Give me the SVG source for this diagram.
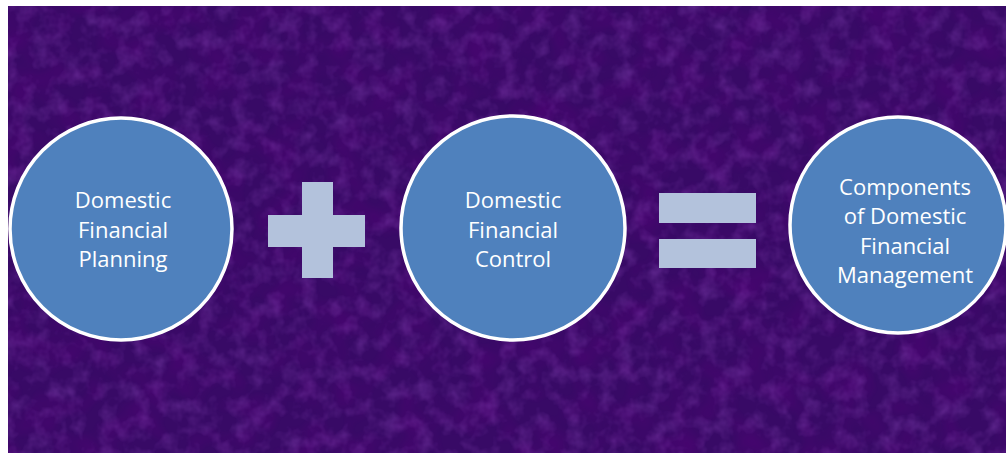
<svg xmlns="http://www.w3.org/2000/svg" width="1006" height="453" viewBox="0 0 1006 453">
  <defs>
    <filter id="tex" x="0" y="0" width="100%" height="100%">
      <feTurbulence type="fractalNoise" baseFrequency="0.06" numOctaves="3" seed="7" result="n"/>
      <feColorMatrix in="n" type="matrix" values="0 0 0 0 0.42  0 0 0 0 0.12  0 0 0 0 0.72  0 0 0 1.2 -0.5" result="c"/>
      <feComposite in="c" in2="SourceGraphic" operator="in"/>
    </filter>
    <filter id="dark" x="0" y="0" width="100%" height="100%">
      <feTurbulence type="fractalNoise" baseFrequency="0.03" numOctaves="2" seed="3" result="n"/>
      <feColorMatrix in="n" type="matrix" values="0 0 0 0 0.1  0 0 0 0 0  0 0 0 0 0.2  0 0 0 1.4 -0.55" result="c"/>
      <feComposite in="c" in2="SourceGraphic" operator="in"/>
    </filter>
    <style>
      .node circle { fill: #4f81bd; stroke: #ffffff; stroke-width: 3.5; }
      .node text { fill: #ffffff; font-family: "Open Sans", "Liberation Sans", sans-serif; font-size: 22px; text-anchor: middle; }
      .op { fill: #b3c2dc; }
    </style>
  </defs>
  <rect x="0" y="0" width="1006" height="453" fill="#ffffff"/>
  <rect x="8" y="6" width="998" height="447" fill="#380a66"/>
  <rect x="8" y="6" width="998" height="447" fill="#000" filter="url(#dark)" opacity="0.6"/>
  <rect x="8" y="6" width="998" height="447" fill="#000" filter="url(#tex)" opacity="0.45"/>
  <g id="node-planning" class="node">
    <circle cx="121" cy="229" r="111"/>
    <text x="123" y="208">Domestic</text>
    <text x="123" y="238">Financial</text>
    <text x="123" y="267">Planning</text>
  </g>
  <g id="op-plus">
    <rect class="op" x="268" y="215" width="97" height="32"/>
    <rect class="op" x="302" y="182" width="31" height="96"/>
  </g>
  <g id="node-control" class="node">
    <circle cx="513" cy="228" r="112"/>
    <text x="513" y="208">Domestic</text>
    <text x="513" y="238">Financial</text>
    <text x="513" y="267">Control</text>
  </g>
  <g id="op-equals">
    <rect class="op" x="659" y="193" width="97" height="30"/>
    <rect class="op" x="659" y="239" width="97" height="29"/>
  </g>
  <g id="node-result" class="node">
    <circle cx="898" cy="225" r="108"/>
    <text x="905" y="195">Components</text>
    <text x="905" y="224">of Domestic</text>
    <text x="905" y="254">Financial</text>
    <text x="905" y="283">Management</text>
  </g>
  <g id="connectors"/>
</svg>
